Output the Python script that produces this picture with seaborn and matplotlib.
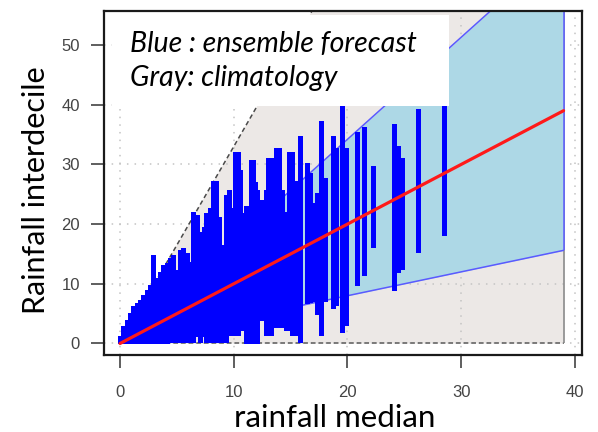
import matplotlib
matplotlib.use("Agg")
import matplotlib.pyplot as plt
from matplotlib.patches import Rectangle
import seaborn as sns

# Ensemble forecasts: median (x) and the interdecile range drawn as a vertical bar
bar_x = [0.00, 0.29, 0.58, 0.88, 1.17, 1.46, 1.75, 2.05, 2.34, 2.63,
         2.92, 3.20, 3.50, 3.80, 4.10, 4.39, 4.68, 4.97, 5.26, 5.56,
         5.85, 6.14, 6.43, 6.73, 7.05, 7.35, 7.60, 7.90, 8.20, 8.40,
         8.70, 8.95, 9.15, 9.35, 9.60, 9.85, 10.15, 10.35, 10.55, 10.80,
         11.05, 11.25, 11.50, 11.70, 11.85, 12.05, 12.30, 12.55, 12.80, 13.05,
         13.30, 13.50, 13.75, 14.00, 14.20, 14.60, 14.90, 15.15, 15.40, 15.60,
         15.85, 16.40, 16.70, 17.05, 17.30, 17.70, 18.05, 18.75, 19.00, 19.50,
         19.90, 20.80, 21.45, 22.25, 24.10, 24.45, 24.75, 26.20, 28.45]
bar_low = [0.0, 0.0, 0.0, 0.0, 0.0, 0.0, 0.0, 0.0, 0.0, 0.0,
           0.0, 0.0, 0.0, 0.0, 0.0, 0.2, 0.2, 0.2, 0.2, 0.2,
           0.2, 0.2, 0.2, 1.2, 0.2, 1.2, 0.2, 0.2, 0.2, 0.2,
           0.2, 0.2, 0.2, 0.2, 1.5, 1.5, 1.5, 1.5, 2.2, 2.2,
           0.0, 0.0, 0.0, 0.0, 0.0, 0.0, 4.0, 4.0, 1.5, 1.5,
           1.5, 8.2, 2.8, 2.8, 2.8, 2.3, 2.3, 1.5, 1.5, 4.3,
           0.2, 6.8, 7.0, 7.2, 5.0, 1.5, 7.2, 5.9, 6.5, 2.0,
           3.1, 9.8, 11.5, 16.2, 9.0, 12.0, 12.5, 15.3, 18.2]
bar_high = [1.2, 2.9, 4.0, 5.1, 6.2, 6.8, 7.3, 8.2, 9.0, 9.8,
            14.8, 11.0, 12.0, 13.2, 13.5, 14.3, 14.8, 12.3, 15.7, 16.0,
            15.1, 13.7, 22.0, 21.5, 18.7, 19.5, 21.8, 22.7, 27.3, 27.3,
            21.2, 16.5, 16.0, 24.8, 25.7, 22.7, 32.0, 32.0, 29.0, 21.8,
            23.0, 23.0, 30.7, 30.7, 27.0, 25.7, 24.0, 24.0, 25.7, 31.0,
            31.0, 25.7, 32.7, 32.7, 25.7, 22.0, 32.0, 32.0, 27.3, 27.3,
            34.8, 30.2, 28.5, 23.5, 25.2, 37.2, 27.8, 34.8, 32.8, 42.0,
            32.8, 35.5, 36.2, 29.7, 36.8, 33.0, 31.0, 39.3, 41.0]

# Envelopes of the interdecile range as a function of the median
band_x = [0, 39]
clim_low = [0, 0]
clim_high = [0, 128.7]
ens_low = [0, 15.6]
ens_high = [0, 66.7]

# Median-to-interdecile reference line
fit_x = [0, 39]
fit_y = [0, 39]

x_ticks = [0, 10, 20, 30, 40]
y_ticks = [0, 10, 20, 30, 40, 50]
legend_lines = ["Blue : ensemble forecast", "Gray: climatology"]

sns.set_theme(style="white")
plt.rcParams["font.family"] = ["Liberation Sans", "DejaVu Sans"]

fig = plt.figure(figsize=(5.98, 4.32), dpi=100)
ax = fig.add_axes([104 / 598, 77 / 432, 478 / 598, 344 / 432])
ax.set_xlim(-1.41, 40.62)
ax.set_ylim(-1.93, 55.7)

# Climatology band
ax.fill_between(band_x, clim_low, clim_high, color="#ece8e6", lw=0, zorder=0.2)
ax.plot(band_x, clim_high, color="#4a4a4a", lw=1.1, ls=(0, (3, 2)), zorder=0.6)
ax.plot(band_x, clim_low, color="#5a5a5a", lw=1.1, ls=(0, (3, 2)), zorder=0.6)
ax.vlines(band_x[-1], 0, 60, color="#8a8a8a", lw=1.2, zorder=0.6)

# Dotted grid
ax.set_axisbelow(True)
ax.grid(True, color="#c4c4c4", lw=1.1, ls=(0, (1, 4)))

# Ensemble band
ax.fill_between(band_x, ens_low, ens_high, color="#add8e6", lw=0, zorder=1)
sns.lineplot(x=band_x, y=ens_high, color="#5a5aff", lw=1.1, ax=ax, zorder=1.2)
sns.lineplot(x=band_x, y=ens_low, color="#5a5aff", lw=1.1, ax=ax, zorder=1.2)
ax.vlines(band_x[-1], ens_low[-1], 60, color="#5a5aff", lw=1.1, zorder=1.2)

# Individual forecasts
ax.vlines(bar_x, bar_low, bar_high, colors="#0000ff", lw=3.5,
          capstyle="butt", antialiased=False, zorder=3)

sns.lineplot(x=fit_x, y=fit_y, color="#ff1a1a", lw=2.3, ax=ax, zorder=4)

# Legend box
ax.add_patch(Rectangle((0.017, 0.724), 0.705, 0.264, transform=ax.transAxes,
                       facecolor="white", edgecolor="none", zorder=5))
for text, yb in zip(legend_lines, [0.881, 0.782]):
    ax.text(0.054, yb, text, transform=ax.transAxes, va="baseline", ha="left",
            fontsize=20.5, style="italic", family=["Lato", "DejaVu Sans"],
            color="black", zorder=6)

ax.set_xticks(x_ticks)
ax.set_yticks(y_ticks)
ax.tick_params(axis="both", direction="out", length=9.4, width=1.1,
               color="#333333", labelcolor="#444444", labelsize=12,
               bottom=True, left=True)
ax.tick_params(axis="x", pad=12)
ax.tick_params(axis="y", pad=8)

for sp in ax.spines.values():
    sp.set_color("#1a1a1a")
    sp.set_linewidth(1.6)

ax.set_xlabel("rainfall median", fontsize=22.5, family=["Lato", "DejaVu Sans"],
              color="black")
ax.set_ylabel("Rainfall interdecile", fontsize=22, family=["Lato", "DejaVu Sans"],
              color="black")
ax.xaxis.set_label_coords(0.483, -0.142)
ax.yaxis.set_label_coords(-0.113, 0.48)

fig.savefig("out.png", dpi=100)
